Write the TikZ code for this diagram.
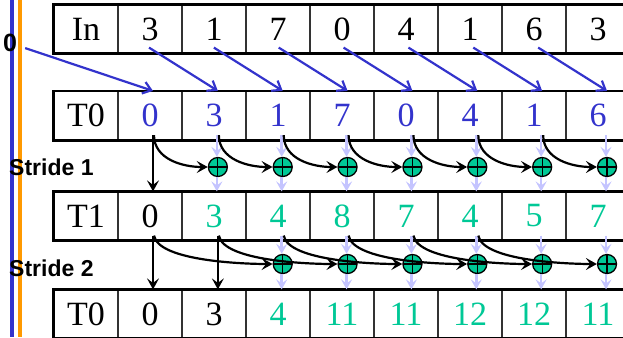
\documentclass[tikz,border=0pt]{standalone}
\usepackage{fontspec}
\setmainfont{Liberation Serif}
\newfontfamily\labelfont{Liberation Sans}
\usetikzlibrary{arrows.meta,calc}
\definecolor{scanblue}{RGB}{51,51,204}
\definecolor{scangreen}{RGB}{0,200,150}
\definecolor{lav}{RGB}{196,196,255}
\definecolor{barorange}{RGB}{255,153,0}
\tikzset{
  cell/.style={draw=black!80, line width=1.2pt, minimum width=64pt, minimum height=48pt,
    inner sep=0pt, font=\fontsize{34}{36}\selectfont},
  rowframe/.style={line width=2.8pt},
  adder/.style={circle, draw, line width=1.3pt, fill=scangreen, minimum size=19pt, inner sep=0pt,
    path picture={\draw[line width=1.1pt] (path picture bounding box.north) -- (path picture bounding box.south)
      (path picture bounding box.west) -- (path picture bounding box.east);}},
  feed/.style={scanblue, line width=2.2pt, -{Straight Barb[length=8pt,width=12pt]}},
  carry/.style={black, line width=2.2pt, -{Stealth[length=11pt,width=12pt,inset=4.5pt]}},
  pass/.style={lav, line width=2.6pt, -{Stealth[length=10pt,width=11pt,inset=4pt]}},
  stridelabel/.style={anchor=west, inner sep=0pt, font=\labelfont\bfseries\fontsize{23}{25}\selectfont}
}
\begin{document}
\begin{tikzpicture}[x=1pt,y=-1pt]
    \useasboundingbox (0,0) rectangle (623,337);
    \clip (0,0) rectangle (623,337);

    % bars on the left
    \draw[scanblue, line width=3.5pt] (12,0) -- (12,337);
    \draw[barorange, line width=3.5pt] (20,0) -- (20,337);

    % lanes
    \foreach \k in {1,...,8}
        \coordinate (l\k) at ({153+64.86*(\k-1)},0);

    % rows
    \foreach \v [count=\i from 0] in {In,3,1,7,0,4,1,6,3}
        \node[cell] (in\i) at ({86+64*\i},29) {\v};
    \foreach \v/\c [count=\i from 0] in {T0/black,0/scanblue,3/scanblue,1/scanblue,7/scanblue,0/scanblue,4/scanblue,1/scanblue,6/scanblue}
        \node[cell, text=\c] (a\i) at ({86+64*\i},115.5) {\v};
    \foreach \v/\c [count=\i from 0] in {T1/black,0/black,3/scangreen,4/scangreen,8/scangreen,7/scangreen,4/scangreen,5/scangreen,7/scangreen}
        \node[cell, text=\c] (b\i) at ({86+64*\i},216) {\v};
    \foreach \v/\c [count=\i from 0] in {T0/black,0/black,3/black,4/scangreen,11/scangreen,11/scangreen,12/scangreen,12/scangreen,11/scangreen}
        \node[cell, text=\c] (c\i) at ({86+64*\i},314) {\v};
    \foreach \r in {in,a,b,c}
        \draw[rowframe] (\r0.north west) rectangle (\r8.south east);

    % labels
    \node[inner sep=0pt, font=\labelfont\bfseries\fontsize{25}{27}\selectfont] (zero) at (10,43) {0};
    \node[stridelabel] (st1) at (9,167) {Stride 1};
    \node[stridelabel] (st2) at (9,268) {Stride 2};

    % In -> T0
    \draw[feed, shorten <=16pt] (zero.center) -- (a1.north -| l1);
    \foreach \k [count=\j from 2] in {1,...,7}
        \draw[feed] ($(in\k.south -| l\k)+(-4,-6)$) -- (a\j.north -| l\j);

    % stride 1
    \foreach \k in {2,...,8}
        \node[adder] (sa\k) at ({153+64.86*(\k-1)},167) {};
    \foreach \k in {2,...,8} {
        \draw[pass] ($(a\k.south -| l\k)+(-1,-5)$) -- ($(sa\k.north)+(-1,0)$);
        \draw[pass] ($(sa\k.south)+(-1,0)$) -- ($(b\k.north -| l\k)+(-1,0)$);
    }
    \draw[carry] ($(a1.south -| l1)+(0,-5)$) -- (b1.north -| l1);
    \foreach \k [count=\j from 2] in {1,...,7}
        \draw[carry] ($(a\k.south -| l\k)+(1,-5)$) to[out=-90, in=180] (sa\j.west);

    % stride 2
    \foreach \k in {3,...,8}
        \node[adder] (sb\k) at ({153+64.86*(\k-1)},264) {};
    \foreach \k in {3,...,8} {
        \draw[pass] ($(b\k.south -| l\k)+(-1,-5)$) -- ($(sb\k.north)+(-1,0)$);
        \draw[pass] ($(sb\k.south)+(-1,0)$) -- ($(c\k.north -| l\k)+(-1,0)$);
    }
    \foreach \k in {1,2}
        \draw[carry] ($(b\k.south -| l\k)+(0,-5)$) -- (c\k.north -| l\k);
    \foreach \k [count=\j from 3] in {1,...,6}
        \draw[carry] ($(b\k.south -| l\k)+(1,-5)$) to[out=-80, in=180, looseness=0.55] (sb\j.west);
\end{tikzpicture}
\end{document}
